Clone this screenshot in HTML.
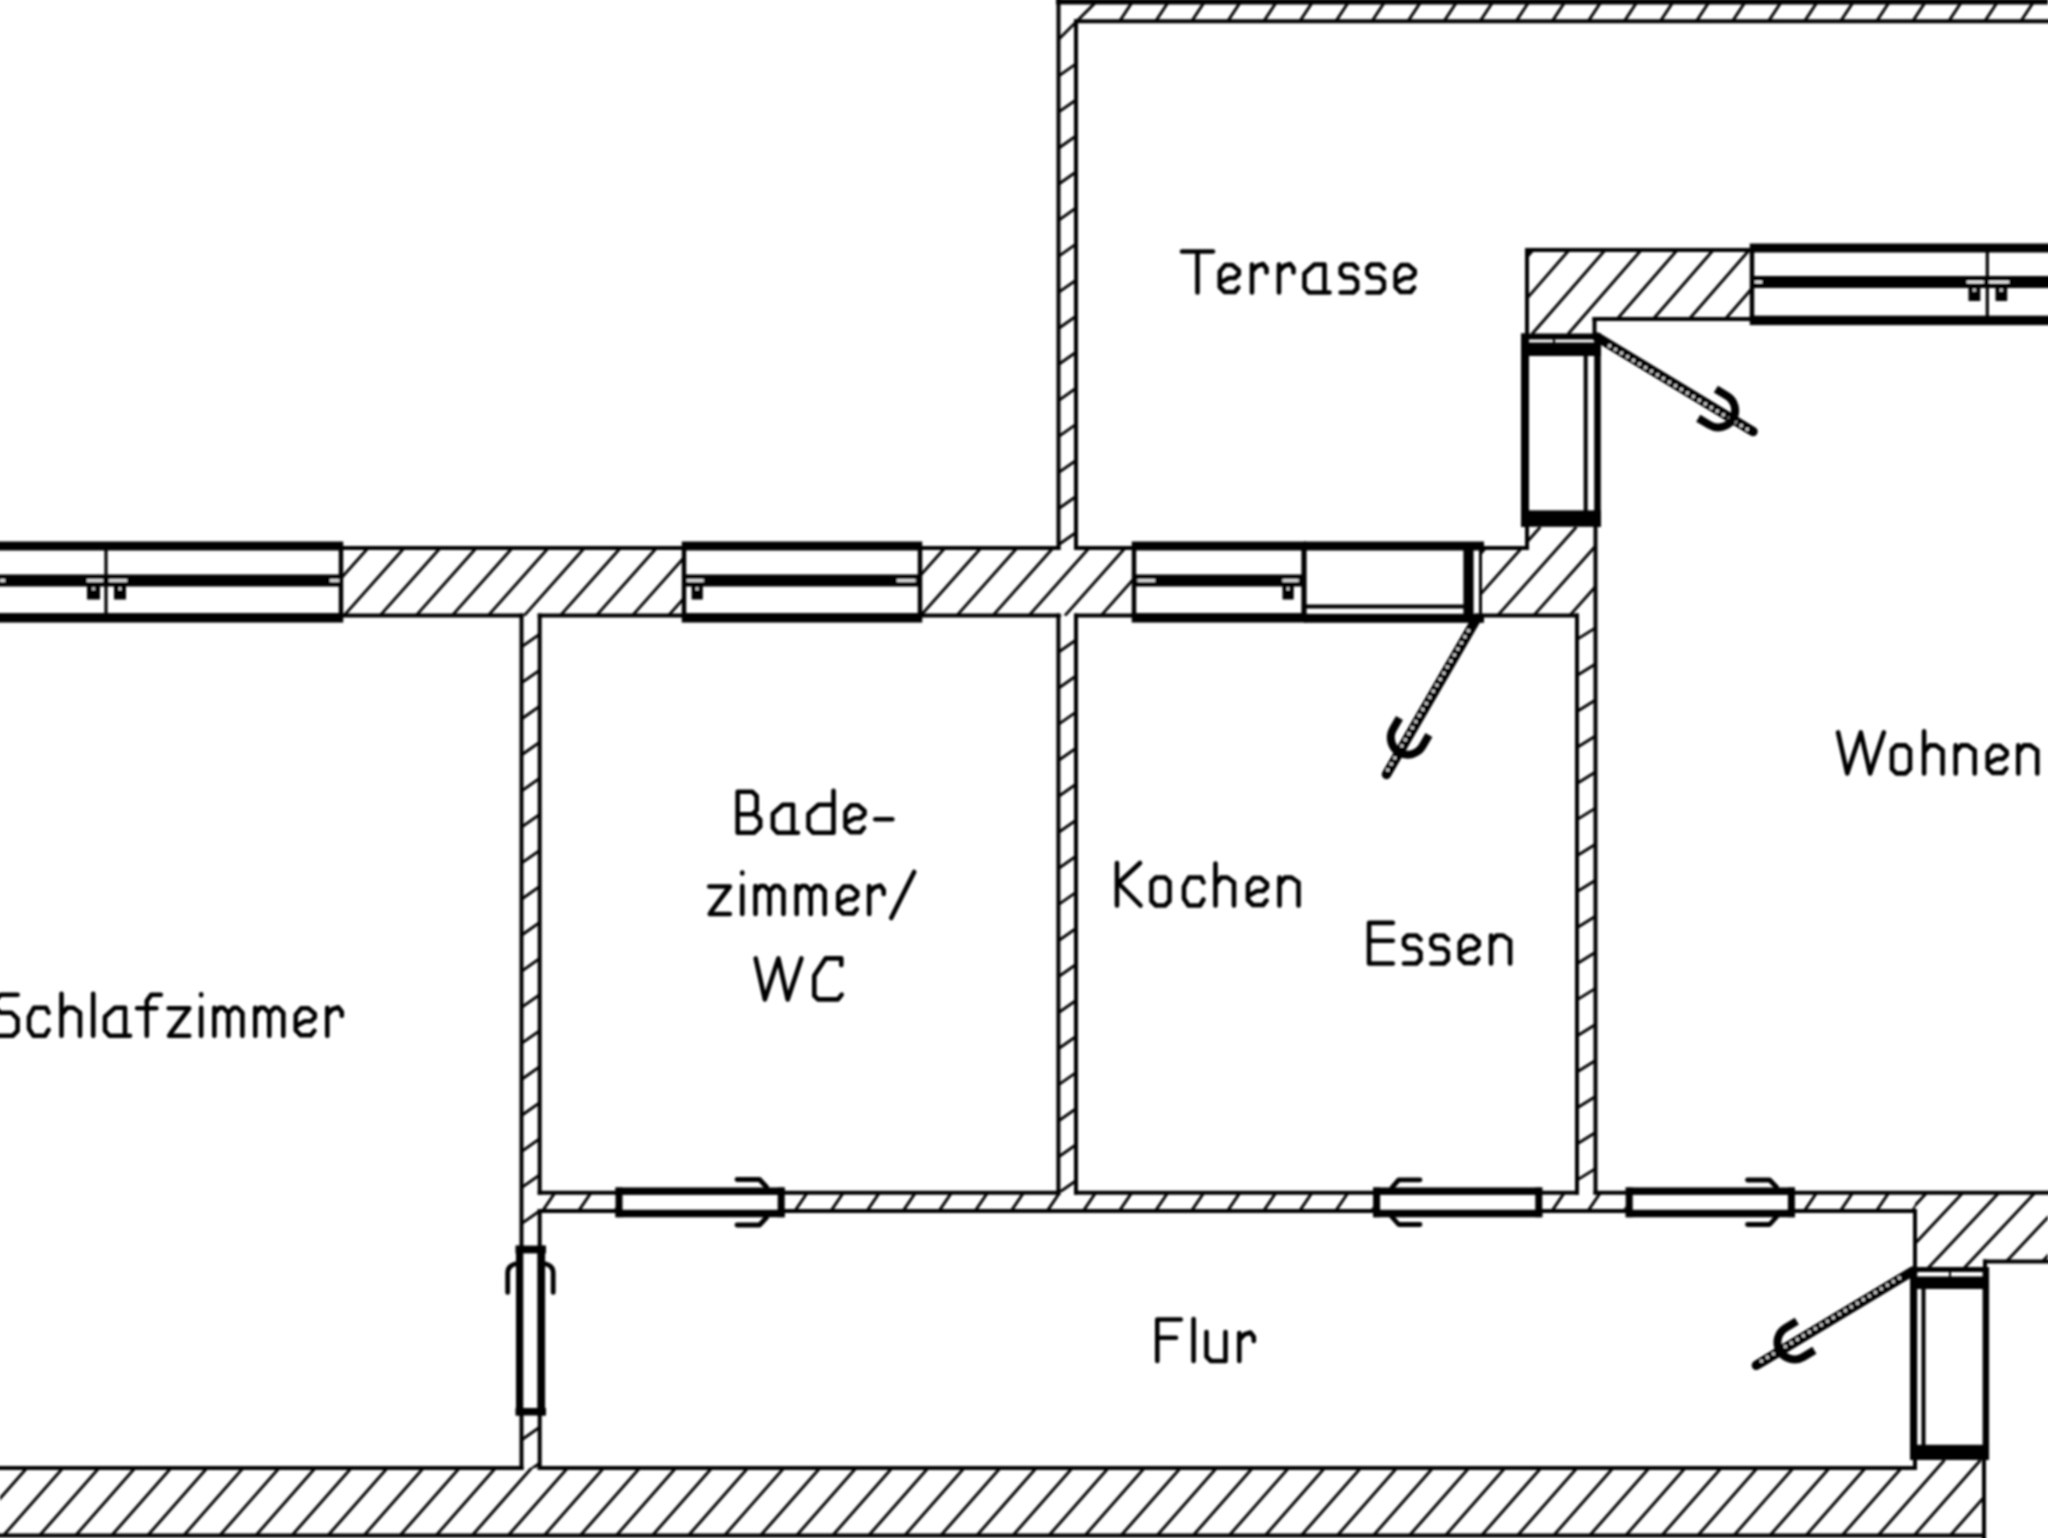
<!DOCTYPE html>
<html><head><meta charset="utf-8"><title>Grundriss</title>
<style>html,body{margin:0;padding:0;background:#fff;overflow:hidden}svg{display:block}text{font-family:"Liberation Sans",sans-serif}</style>
</head><body>
<svg width="2048" height="1538" viewBox="0 0 2048 1538"><defs><filter id="blr" x="0" y="0" width="2048" height="1538" filterUnits="userSpaceOnUse"><feGaussianBlur stdDeviation="0.8"/></filter><clipPath id="c1"><polygon points="1100,1 2048,1 2048,21.3 1100,21.3"/></clipPath><clipPath id="c2"><polygon points="1058.5,45 1076,45 1076,548 1058.5,548"/></clipPath><clipPath id="c3"><polygon points="1058.5,1 1100,1 1100,21.3 1076,21.3 1076,45 1058.5,45"/></clipPath><clipPath id="c4"><polygon points="341,548 684,548 684,615.6 341,615.6"/></clipPath><clipPath id="c5"><polygon points="920,548 1134,548 1134,615.6 920,615.6"/></clipPath><clipPath id="c6"><polygon points="1482,548 1527,548 1527,527 1595.5,527 1595.5,615.6 1482,615.6"/></clipPath><clipPath id="c7"><polygon points="1527,250 1752,250 1752,319 1594.5,319 1594.5,334 1527,334"/></clipPath><clipPath id="c8"><polygon points="521.5,615.6 539.7,615.6 539.7,1248 521.5,1248"/></clipPath><clipPath id="c9"><polygon points="521.5,1415 539.7,1415 539.7,1468 521.5,1468"/></clipPath><clipPath id="c10"><polygon points="1058.4,615.6 1076,615.6 1076,1192 1058.4,1192"/></clipPath><clipPath id="c11"><polygon points="1577,615.6 1595.5,615.6 1595.5,1192 1577,1192"/></clipPath><clipPath id="c12"><polygon points="539.7,1192.7 615.6,1192.7 615.6,1211.1 539.7,1211.1"/></clipPath><clipPath id="c13"><polygon points="784.6,1192.7 1373.1,1192.7 1373.1,1211.1 784.6,1211.1"/></clipPath><clipPath id="c14"><polygon points="1542.3,1192.7 1625.7,1192.7 1625.7,1211.1 1542.3,1211.1"/></clipPath><clipPath id="c15"><polygon points="1794.9,1192.7 1915,1192.7 1915,1211.1 1794.9,1211.1"/></clipPath><clipPath id="c16"><polygon points="1915,1192 2048,1192 2048,1261.4 1985,1261.4 1985,1270 1915,1270"/></clipPath><clipPath id="c17"><polygon points="0,1468 1915,1468 1915,1460 1984,1460 1984,1535.5 0,1535.5"/></clipPath></defs><rect width="2048" height="1538" fill="#fff"/><g font-family="Liberation Sans, sans-serif" fill="#000" filter="url(#blr)"><path clip-path="url(#c1)" d="M1011.4 21.3L1024.8 1M1047.45 21.3L1060.85 1M1083.5 21.3L1096.9 1M1119.55 21.3L1132.95 1M1155.6 21.3L1169 1M1191.65 21.3L1205.05 1M1227.7 21.3L1241.1 1M1263.75 21.3L1277.15 1M1299.8 21.3L1313.2 1M1335.85 21.3L1349.25 1M1371.9 21.3L1385.3 1M1407.95 21.3L1421.35 1M1444 21.3L1457.4 1M1480.05 21.3L1493.45 1M1516.1 21.3L1529.5 1M1552.15 21.3L1565.55 1M1588.2 21.3L1601.6 1M1624.25 21.3L1637.65 1M1660.3 21.3L1673.7 1M1696.35 21.3L1709.75 1M1732.4 21.3L1745.8 1M1768.45 21.3L1781.85 1M1804.5 21.3L1817.9 1M1840.55 21.3L1853.95 1M1876.6 21.3L1890 1M1912.65 21.3L1926.05 1M1948.7 21.3L1962.1 1M1984.75 21.3L1998.15 1M2020.8 21.3L2034.2 1M2056.85 21.3L2070.25 1M2092.9 21.3L2106.3 1M2128.95 21.3L2142.35 1" stroke="#000" stroke-width="2.9" fill="none"/>
<path clip-path="url(#c2)" d="M1058.5 -32.05L1076 -44.3M1058.5 4L1076 -8.25M1058.5 40.05L1076 27.8M1058.5 76.1L1076 63.85M1058.5 112.15L1076 99.9M1058.5 148.2L1076 135.95M1058.5 184.25L1076 172M1058.5 220.3L1076 208.05M1058.5 256.35L1076 244.1M1058.5 292.4L1076 280.15M1058.5 328.45L1076 316.2M1058.5 364.5L1076 352.25M1058.5 400.55L1076 388.3M1058.5 436.6L1076 424.35M1058.5 472.65L1076 460.4M1058.5 508.7L1076 496.45M1058.5 544.75L1076 532.5M1058.5 580.8L1076 568.55M1058.5 616.85L1076 604.6M1058.5 652.9L1076 640.65" stroke="#000" stroke-width="2.9" fill="none"/>
<path clip-path="url(#c3)" d="M1050 48L1100 -2" stroke="#000" stroke-width="2.9" fill="none"/>
<path clip-path="url(#c4)" d="M199.75 615.6L259.91 548M235.8 615.6L295.96 548M271.85 615.6L332.01 548M307.9 615.6L368.06 548M343.95 615.6L404.11 548M380 615.6L440.16 548M416.05 615.6L476.21 548M452.1 615.6L512.26 548M488.15 615.6L548.31 548M524.2 615.6L584.36 548M560.25 615.6L620.41 548M596.3 615.6L656.46 548M632.35 615.6L692.51 548M668.4 615.6L728.56 548M704.45 615.6L764.61 548M740.5 615.6L800.66 548M776.55 615.6L836.71 548" stroke="#000" stroke-width="2.9" fill="none"/>
<path clip-path="url(#c5)" d="M776.55 615.6L836.71 548M812.6 615.6L872.76 548M848.65 615.6L908.81 548M884.7 615.6L944.86 548M920.75 615.6L980.91 548M956.8 615.6L1016.96 548M992.85 615.6L1053.01 548M1028.9 615.6L1089.06 548M1064.95 615.6L1125.11 548M1101 615.6L1161.16 548M1137.05 615.6L1197.21 548M1173.1 615.6L1233.26 548M1209.15 615.6L1269.31 548" stroke="#000" stroke-width="2.9" fill="none"/>
<path clip-path="url(#c6)" d="M1317.3 615.6L1396.15 527M1353.35 615.6L1432.2 527M1389.4 615.6L1468.25 527M1425.45 615.6L1504.3 527M1461.5 615.6L1540.35 527M1497.55 615.6L1576.4 527M1533.6 615.6L1612.45 527M1569.65 615.6L1648.5 527M1605.7 615.6L1684.55 527M1641.75 615.6L1720.6 527M1677.8 615.6L1756.65 527" stroke="#000" stroke-width="2.9" fill="none"/>
<path clip-path="url(#c7)" d="M1351.8 334L1424.88 250M1387.85 334L1460.93 250M1423.9 334L1496.98 250M1459.95 334L1533.03 250M1496 334L1569.08 250M1532.05 334L1605.13 250M1568.1 334L1641.18 250M1604.15 334L1677.23 250M1640.2 334L1713.28 250M1676.25 334L1749.33 250M1712.3 334L1785.38 250M1748.35 334L1821.43 250M1784.4 334L1857.48 250M1820.45 334L1893.53 250M1856.5 334L1929.58 250" stroke="#000" stroke-width="2.9" fill="none"/>
<path clip-path="url(#c8)" d="M521.5 538.7L539.7 525.96M521.5 574.75L539.7 562.01M521.5 610.8L539.7 598.06M521.5 646.85L539.7 634.11M521.5 682.9L539.7 670.16M521.5 718.95L539.7 706.21M521.5 755L539.7 742.26M521.5 791.05L539.7 778.31M521.5 827.1L539.7 814.36M521.5 863.15L539.7 850.41M521.5 899.2L539.7 886.46M521.5 935.25L539.7 922.51M521.5 971.3L539.7 958.56M521.5 1007.35L539.7 994.61M521.5 1043.4L539.7 1030.66M521.5 1079.45L539.7 1066.71M521.5 1115.5L539.7 1102.76M521.5 1151.55L539.7 1138.81M521.5 1187.6L539.7 1174.86M521.5 1223.65L539.7 1210.91M521.5 1259.7L539.7 1246.96M521.5 1295.75L539.7 1283.01M521.5 1331.8L539.7 1319.06M521.5 1367.85L539.7 1355.11" stroke="#000" stroke-width="2.9" fill="none"/>
<path clip-path="url(#c9)" d="M521.5 1331.8L539.7 1319.06M521.5 1367.85L539.7 1355.11M521.5 1403.9L539.7 1391.16M521.5 1439.95L539.7 1427.21M521.5 1476L539.7 1463.26M521.5 1512.05L539.7 1499.31M521.5 1548.1L539.7 1535.36M521.5 1584.15L539.7 1571.41" stroke="#000" stroke-width="2.9" fill="none"/>
<path clip-path="url(#c10)" d="M1058.4 508.1L1076 495.78M1058.4 544.15L1076 531.83M1058.4 580.2L1076 567.88M1058.4 616.25L1076 603.93M1058.4 652.3L1076 639.98M1058.4 688.35L1076 676.03M1058.4 724.4L1076 712.08M1058.4 760.45L1076 748.13M1058.4 796.5L1076 784.18M1058.4 832.55L1076 820.23M1058.4 868.6L1076 856.28M1058.4 904.65L1076 892.33M1058.4 940.7L1076 928.38M1058.4 976.75L1076 964.43M1058.4 1012.8L1076 1000.48M1058.4 1048.85L1076 1036.53M1058.4 1084.9L1076 1072.58M1058.4 1120.95L1076 1108.63M1058.4 1157L1076 1144.68M1058.4 1193.05L1076 1180.73M1058.4 1229.1L1076 1216.78M1058.4 1265.15L1076 1252.83M1058.4 1301.2L1076 1288.88" stroke="#000" stroke-width="2.9" fill="none"/>
<path clip-path="url(#c11)" d="M1577 531.2L1595.5 519.73M1577 567.25L1595.5 555.78M1577 603.3L1595.5 591.83M1577 639.35L1595.5 627.88M1577 675.4L1595.5 663.93M1577 711.45L1595.5 699.98M1577 747.5L1595.5 736.03M1577 783.55L1595.5 772.08M1577 819.6L1595.5 808.13M1577 855.65L1595.5 844.18M1577 891.7L1595.5 880.23M1577 927.75L1595.5 916.28M1577 963.8L1595.5 952.33M1577 999.85L1595.5 988.38M1577 1035.9L1595.5 1024.43M1577 1071.95L1595.5 1060.48M1577 1108L1595.5 1096.53M1577 1144.05L1595.5 1132.58M1577 1180.1L1595.5 1168.63M1577 1216.15L1595.5 1204.68M1577 1252.2L1595.5 1240.73M1577 1288.25L1595.5 1276.78" stroke="#000" stroke-width="2.9" fill="none"/>
<path clip-path="url(#c12)" d="M434.3 1211.1L446.81 1192.7M470.35 1211.1L482.86 1192.7M506.4 1211.1L518.91 1192.7M542.45 1211.1L554.96 1192.7M578.5 1211.1L591.01 1192.7M614.55 1211.1L627.06 1192.7M650.6 1211.1L663.11 1192.7M686.65 1211.1L699.16 1192.7M722.7 1211.1L735.21 1192.7" stroke="#000" stroke-width="2.9" fill="none"/>
<path clip-path="url(#c13)" d="M686.65 1211.1L699.16 1192.7M722.7 1211.1L735.21 1192.7M758.75 1211.1L771.26 1192.7M794.8 1211.1L807.31 1192.7M830.85 1211.1L843.36 1192.7M866.9 1211.1L879.41 1192.7M902.95 1211.1L915.46 1192.7M939 1211.1L951.51 1192.7M975.05 1211.1L987.56 1192.7M1011.1 1211.1L1023.61 1192.7M1047.15 1211.1L1059.66 1192.7M1083.2 1211.1L1095.71 1192.7M1119.25 1211.1L1131.76 1192.7M1155.3 1211.1L1167.81 1192.7M1191.35 1211.1L1203.86 1192.7M1227.4 1211.1L1239.91 1192.7M1263.45 1211.1L1275.96 1192.7M1299.5 1211.1L1312.01 1192.7M1335.55 1211.1L1348.06 1192.7M1371.6 1211.1L1384.11 1192.7M1407.65 1211.1L1420.16 1192.7M1443.7 1211.1L1456.21 1192.7M1479.75 1211.1L1492.26 1192.7" stroke="#000" stroke-width="2.9" fill="none"/>
<path clip-path="url(#c14)" d="M1443.7 1211.1L1456.21 1192.7M1479.75 1211.1L1492.26 1192.7M1515.8 1211.1L1528.31 1192.7M1551.85 1211.1L1564.36 1192.7M1587.9 1211.1L1600.41 1192.7M1623.95 1211.1L1636.46 1192.7M1660 1211.1L1672.51 1192.7M1696.05 1211.1L1708.56 1192.7M1732.1 1211.1L1744.61 1192.7" stroke="#000" stroke-width="2.9" fill="none"/>
<path clip-path="url(#c15)" d="M1696.05 1211.1L1708.56 1192.7M1732.1 1211.1L1744.61 1192.7M1768.15 1211.1L1780.66 1192.7M1804.2 1211.1L1816.71 1192.7M1840.25 1211.1L1852.76 1192.7M1876.3 1211.1L1888.81 1192.7M1912.35 1211.1L1924.86 1192.7M1948.4 1211.1L1960.91 1192.7M1984.45 1211.1L1996.96 1192.7M2020.5 1211.1L2033.01 1192.7" stroke="#000" stroke-width="2.9" fill="none"/>
<path clip-path="url(#c16)" d="M1746.02 1270L1819.34 1192M1782.07 1270L1855.39 1192M1818.12 1270L1891.44 1192M1854.17 1270L1927.49 1192M1890.22 1270L1963.54 1192M1926.27 1270L1999.59 1192M1962.32 1270L2035.64 1192M1998.37 1270L2071.69 1192M2034.42 1270L2107.74 1192M2070.47 1270L2143.79 1192M2106.52 1270L2179.84 1192M2142.57 1270L2215.89 1192" stroke="#000" stroke-width="2.9" fill="none"/>
<path clip-path="url(#c17)" d="M-140.7 1535.5L-74.26 1460M-104.65 1535.5L-38.21 1460M-68.6 1535.5L-2.16 1460M-32.55 1535.5L33.89 1460M3.5 1535.5L69.94 1460M39.55 1535.5L105.99 1460M75.6 1535.5L142.04 1460M111.65 1535.5L178.09 1460M147.7 1535.5L214.14 1460M183.75 1535.5L250.19 1460M219.8 1535.5L286.24 1460M255.85 1535.5L322.29 1460M291.9 1535.5L358.34 1460M327.95 1535.5L394.39 1460M364 1535.5L430.44 1460M400.05 1535.5L466.49 1460M436.1 1535.5L502.54 1460M472.15 1535.5L538.59 1460M508.2 1535.5L574.64 1460M544.25 1535.5L610.69 1460M580.3 1535.5L646.74 1460M616.35 1535.5L682.79 1460M652.4 1535.5L718.84 1460M688.45 1535.5L754.89 1460M724.5 1535.5L790.94 1460M760.55 1535.5L826.99 1460M796.6 1535.5L863.04 1460M832.65 1535.5L899.09 1460M868.7 1535.5L935.14 1460M904.75 1535.5L971.19 1460M940.8 1535.5L1007.24 1460M976.85 1535.5L1043.29 1460M1012.9 1535.5L1079.34 1460M1048.95 1535.5L1115.39 1460M1085 1535.5L1151.44 1460M1121.05 1535.5L1187.49 1460M1157.1 1535.5L1223.54 1460M1193.15 1535.5L1259.59 1460M1229.2 1535.5L1295.64 1460M1265.25 1535.5L1331.69 1460M1301.3 1535.5L1367.74 1460M1337.35 1535.5L1403.79 1460M1373.4 1535.5L1439.84 1460M1409.45 1535.5L1475.89 1460M1445.5 1535.5L1511.94 1460M1481.55 1535.5L1547.99 1460M1517.6 1535.5L1584.04 1460M1553.65 1535.5L1620.09 1460M1589.7 1535.5L1656.14 1460M1625.75 1535.5L1692.19 1460M1661.8 1535.5L1728.24 1460M1697.85 1535.5L1764.29 1460M1733.9 1535.5L1800.34 1460M1769.95 1535.5L1836.39 1460M1806 1535.5L1872.44 1460M1842.05 1535.5L1908.49 1460M1878.1 1535.5L1944.54 1460M1914.15 1535.5L1980.59 1460M1950.2 1535.5L2016.64 1460M1986.25 1535.5L2052.69 1460M2022.3 1535.5L2088.74 1460M2058.35 1535.5L2124.79 1460" stroke="#000" stroke-width="2.9" fill="none"/>
<rect x="1056" y="-1" width="992" height="5.5" fill="#000"/>
<line x1="1058.5" y1="0" x2="1058.5" y2="548" stroke="#000" stroke-width="4" stroke-linecap="square"/>
<line x1="1076" y1="21.3" x2="2048" y2="21.3" stroke="#000" stroke-width="4" stroke-linecap="square"/>
<line x1="1076" y1="21.3" x2="1076" y2="548" stroke="#000" stroke-width="4" stroke-linecap="square"/>
<line x1="341" y1="548" x2="684" y2="548" stroke="#000" stroke-width="4" stroke-linecap="square"/>
<line x1="920" y1="548" x2="1058.5" y2="548" stroke="#000" stroke-width="4" stroke-linecap="square"/>
<line x1="1076" y1="548" x2="1134" y2="548" stroke="#000" stroke-width="4" stroke-linecap="square"/>
<line x1="1482" y1="548" x2="1527" y2="548" stroke="#000" stroke-width="4" stroke-linecap="square"/>
<line x1="341" y1="615.6" x2="521.5" y2="615.6" stroke="#000" stroke-width="4" stroke-linecap="square"/>
<line x1="539.7" y1="615.6" x2="684" y2="615.6" stroke="#000" stroke-width="4" stroke-linecap="square"/>
<line x1="920" y1="615.6" x2="1058.4" y2="615.6" stroke="#000" stroke-width="4" stroke-linecap="square"/>
<line x1="1076" y1="615.6" x2="1134" y2="615.6" stroke="#000" stroke-width="4" stroke-linecap="square"/>
<line x1="1482" y1="615.6" x2="1577" y2="615.6" stroke="#000" stroke-width="4" stroke-linecap="square"/>
<line x1="1595.5" y1="527" x2="1595.5" y2="1192.5" stroke="#000" stroke-width="4" stroke-linecap="square"/>
<line x1="1527" y1="527" x2="1527" y2="548" stroke="#000" stroke-width="4" stroke-linecap="square"/>
<line x1="1527" y1="250" x2="1752" y2="250" stroke="#000" stroke-width="4" stroke-linecap="square"/>
<line x1="1527" y1="250" x2="1527" y2="334" stroke="#000" stroke-width="4" stroke-linecap="square"/>
<line x1="1594.5" y1="319" x2="1752" y2="319" stroke="#000" stroke-width="4" stroke-linecap="square"/>
<line x1="1594.5" y1="319" x2="1594.5" y2="334" stroke="#000" stroke-width="4" stroke-linecap="square"/>
<line x1="521.5" y1="615.6" x2="521.5" y2="1248" stroke="#000" stroke-width="4" stroke-linecap="square"/>
<line x1="521.5" y1="1415" x2="521.5" y2="1468" stroke="#000" stroke-width="4" stroke-linecap="square"/>
<line x1="539.7" y1="615.6" x2="539.7" y2="1192.7" stroke="#000" stroke-width="4" stroke-linecap="square"/>
<line x1="539.7" y1="1211.1" x2="539.7" y2="1248" stroke="#000" stroke-width="4" stroke-linecap="square"/>
<line x1="539.7" y1="1415" x2="539.7" y2="1468" stroke="#000" stroke-width="4" stroke-linecap="square"/>
<line x1="1058.4" y1="615.6" x2="1058.4" y2="1192.7" stroke="#000" stroke-width="4" stroke-linecap="square"/>
<line x1="1076" y1="615.6" x2="1076" y2="1192.7" stroke="#000" stroke-width="4" stroke-linecap="square"/>
<line x1="1577" y1="615.6" x2="1577" y2="1192.7" stroke="#000" stroke-width="4" stroke-linecap="square"/>
<line x1="539.7" y1="1192.7" x2="615.6" y2="1192.7" stroke="#000" stroke-width="4" stroke-linecap="square"/>
<line x1="784.6" y1="1192.7" x2="1058.4" y2="1192.7" stroke="#000" stroke-width="4" stroke-linecap="square"/>
<line x1="1076" y1="1192.7" x2="1373.1" y2="1192.7" stroke="#000" stroke-width="4" stroke-linecap="square"/>
<line x1="1542.3" y1="1192.7" x2="1577" y2="1192.7" stroke="#000" stroke-width="4" stroke-linecap="square"/>
<line x1="1595.5" y1="1192.7" x2="1625.7" y2="1192.7" stroke="#000" stroke-width="4" stroke-linecap="square"/>
<line x1="1794.9" y1="1192.7" x2="2048" y2="1192.7" stroke="#000" stroke-width="4" stroke-linecap="square"/>
<line x1="539.7" y1="1211.1" x2="615.6" y2="1211.1" stroke="#000" stroke-width="4" stroke-linecap="square"/>
<line x1="784.6" y1="1211.1" x2="1373.1" y2="1211.1" stroke="#000" stroke-width="4" stroke-linecap="square"/>
<line x1="1542.3" y1="1211.1" x2="1625.7" y2="1211.1" stroke="#000" stroke-width="4" stroke-linecap="square"/>
<line x1="1794.9" y1="1211.1" x2="1915" y2="1211.1" stroke="#000" stroke-width="4" stroke-linecap="square"/>
<line x1="1915" y1="1211.1" x2="1915" y2="1270" stroke="#000" stroke-width="4" stroke-linecap="square"/>
<line x1="1985" y1="1261.4" x2="2048" y2="1261.4" stroke="#000" stroke-width="4" stroke-linecap="square"/>
<line x1="1985" y1="1261.4" x2="1985" y2="1270" stroke="#000" stroke-width="4" stroke-linecap="square"/>
<line x1="0" y1="1468" x2="521.5" y2="1468" stroke="#000" stroke-width="4" stroke-linecap="square"/>
<line x1="539.7" y1="1468" x2="1915" y2="1468" stroke="#000" stroke-width="4" stroke-linecap="square"/>
<line x1="1915" y1="1460" x2="1915" y2="1468" stroke="#000" stroke-width="4" stroke-linecap="square"/>
<line x1="0" y1="1535.5" x2="1984" y2="1535.5" stroke="#000" stroke-width="4" stroke-linecap="square"/>
<line x1="1984" y1="1460" x2="1984" y2="1538" stroke="#000" stroke-width="4" stroke-linecap="square"/>
<rect x="-12.25" y="541.5" width="355.5" height="9" fill="#000"/>
<rect x="-12.25" y="613.05" width="355.5" height="9.5" fill="#000"/>
<rect x="338.75" y="546" width="4.5" height="71.8" fill="#000"/>
<rect x="-10" y="574.5" width="351" height="12" fill="#000"/>
<rect x="0" y="579.3" width="5" height="2.4" fill="#fff"/>
<rect x="87" y="579.3" width="16" height="2.4" fill="#fff"/>
<rect x="109" y="579.3" width="18" height="2.4" fill="#fff"/>
<rect x="330" y="579.3" width="9" height="2.4" fill="#fff"/>
<rect x="104.4" y="546" width="3.2" height="71.8" fill="#000"/>
<rect x="87" y="583.5" width="13" height="16" fill="#000"/>
<rect x="92.3" y="587.5" width="2.4" height="2.4" fill="#fff"/>
<rect x="114" y="583.5" width="12" height="16" fill="#000"/>
<rect x="118.8" y="587.5" width="2.4" height="2.4" fill="#fff"/>
<rect x="681.75" y="541.5" width="240.5" height="9" fill="#000"/>
<rect x="681.75" y="613.05" width="240.5" height="9.5" fill="#000"/>
<rect x="681.75" y="546" width="4.5" height="71.8" fill="#000"/>
<rect x="917.75" y="546" width="4.5" height="71.8" fill="#000"/>
<rect x="684" y="574.5" width="236" height="12" fill="#000"/>
<rect x="687" y="579.3" width="16.7" height="2.4" fill="#fff"/>
<rect x="897" y="579.3" width="18.6" height="2.4" fill="#fff"/>
<rect x="691.6" y="583.5" width="11.2" height="16" fill="#000"/>
<rect x="696" y="587.5" width="2.4" height="2.4" fill="#fff"/>
<rect x="1131.75" y="541.5" width="174.5" height="9" fill="#000"/>
<rect x="1131.75" y="613.05" width="174.5" height="9.5" fill="#000"/>
<rect x="1131.75" y="546" width="4.5" height="71.8" fill="#000"/>
<rect x="1301.75" y="546" width="4.5" height="71.8" fill="#000"/>
<rect x="1134" y="574.5" width="170" height="12" fill="#000"/>
<rect x="1137.5" y="579.3" width="17.5" height="2.4" fill="#fff"/>
<rect x="1282.5" y="579.3" width="16.2" height="2.4" fill="#fff"/>
<rect x="1282.5" y="583.5" width="11.2" height="16" fill="#000"/>
<rect x="1286.9" y="587.5" width="2.4" height="2.4" fill="#fff"/>
<rect x="1304" y="541.5" width="180" height="9" fill="#000"/>
<rect x="1304" y="613.8" width="180" height="9" fill="#000"/>
<rect x="1304" y="604.5" width="162" height="4" fill="#000"/>
<rect x="1301.5" y="546" width="5" height="72" fill="#000"/>
<rect x="1463.4" y="548" width="10.2" height="72" fill="#000"/>
<rect x="1479" y="546" width="3" height="72" fill="#000"/>
<rect x="1749.75" y="243.5" width="312.5" height="9" fill="#000"/>
<rect x="1749.75" y="315.65" width="312.5" height="9.5" fill="#000"/>
<rect x="1749.75" y="248" width="4.5" height="72.4" fill="#000"/>
<rect x="1752" y="276" width="308" height="12" fill="#000"/>
<rect x="1755" y="280.8" width="7" height="2.4" fill="#fff"/>
<rect x="1966.8" y="280.8" width="17" height="2.4" fill="#fff"/>
<rect x="1989" y="280.8" width="20" height="2.4" fill="#fff"/>
<rect x="1985.7" y="248" width="3.2" height="72.4" fill="#000"/>
<rect x="1968.5" y="285" width="11.8" height="16" fill="#000"/>
<rect x="1973.2" y="289" width="2.4" height="2.4" fill="#fff"/>
<rect x="1995.5" y="285" width="11.7" height="16" fill="#000"/>
<rect x="2000.15" y="289" width="2.4" height="2.4" fill="#fff"/>
<rect x="1521" y="333.5" width="8" height="193.5" fill="#000"/>
<rect x="1594.2" y="333.5" width="6.6" height="193.5" fill="#000"/>
<rect x="1583.7" y="350" width="4" height="165" fill="#000"/>
<rect x="1521" y="333.5" width="80" height="6" fill="#000"/>
<rect x="1521" y="342.5" width="80" height="13.5" fill="#000"/>
<rect x="1553" y="337" width="2" height="8" fill="#000"/>
<rect x="1521" y="510.4" width="80" height="16.4" fill="#000"/>
<rect x="1910" y="1267" width="7.2" height="193" fill="#000"/>
<rect x="1982.6" y="1267" width="6.5" height="193" fill="#000"/>
<rect x="1921.5" y="1280" width="4" height="170" fill="#000"/>
<rect x="1910" y="1267" width="79" height="5" fill="#000"/>
<rect x="1910" y="1276.5" width="79" height="12.5" fill="#000"/>
<rect x="1949" y="1270" width="2" height="8" fill="#000"/>
<rect x="1910" y="1444.8" width="79" height="15.2" fill="#000"/>
<rect x="615.5" y="1187.45" width="169.2" height="7.5" fill="#000"/>
<rect x="615.5" y="1209.75" width="169.2" height="7.5" fill="#000"/>
<rect x="615.5" y="1187.5" width="7" height="29.7" fill="#000"/>
<rect x="777.7" y="1187.5" width="7" height="29.7" fill="#000"/>
<rect x="1373.1" y="1187.45" width="169.2" height="7.5" fill="#000"/>
<rect x="1373.1" y="1209.75" width="169.2" height="7.5" fill="#000"/>
<rect x="1373.1" y="1187.5" width="7" height="29.7" fill="#000"/>
<rect x="1535.3" y="1187.5" width="7" height="29.7" fill="#000"/>
<rect x="1625.7" y="1187.45" width="169.2" height="7.5" fill="#000"/>
<rect x="1625.7" y="1209.75" width="169.2" height="7.5" fill="#000"/>
<rect x="1625.7" y="1187.5" width="7" height="29.7" fill="#000"/>
<rect x="1787.9" y="1187.5" width="7" height="29.7" fill="#000"/>
<path d="M737 1179.5H759.5L766.5 1187" stroke="#000" stroke-width="4.8" fill="none" stroke-linecap="round" stroke-linejoin="round"/>
<path d="M737 1225H759.5L766.5 1217.5" stroke="#000" stroke-width="4.8" fill="none" stroke-linecap="round" stroke-linejoin="round"/>
<path d="M1420 1179.8H1398.7L1392 1187.5" stroke="#000" stroke-width="4.8" fill="none" stroke-linecap="round" stroke-linejoin="round"/>
<path d="M1420 1224.5H1398.7L1392 1217" stroke="#000" stroke-width="4.8" fill="none" stroke-linecap="round" stroke-linejoin="round"/>
<path d="M1747.5 1180H1769.6L1776.4 1187" stroke="#000" stroke-width="4.8" fill="none" stroke-linecap="round" stroke-linejoin="round"/>
<path d="M1747.5 1224.5H1769.6L1776.4 1217" stroke="#000" stroke-width="4.8" fill="none" stroke-linecap="round" stroke-linejoin="round"/>
<rect x="516" y="1245.6" width="7.3" height="169.9" fill="#000"/>
<rect x="537.3" y="1245.6" width="7.8" height="169.9" fill="#000"/>
<rect x="515.5" y="1245.6" width="30.5" height="7.8" fill="#000"/>
<rect x="515.5" y="1408" width="30.5" height="7.5" fill="#000"/>
<path d="M507.7 1292.4V1273Q507.7 1266 515 1264" stroke="#000" stroke-width="4.8" fill="none" stroke-linecap="round" stroke-linejoin="round"/>
<path d="M553.2 1292.4V1273Q553.2 1266 546 1264" stroke="#000" stroke-width="4.8" fill="none" stroke-linecap="round" stroke-linejoin="round"/>
<line x1="1477" y1="618" x2="1386.5" y2="774.4" stroke="#000" stroke-width="9.5" stroke-linecap="round"/>
<line x1="1469.12" y1="629.62" x2="1387.14" y2="771.3" stroke="#fff" stroke-width="2.4" stroke-dasharray="2.6 4.4"/>
<path d="M1399.48 718.02L1392.97 729.28A17 17 0 0 0 1422.4 746.3L1428.91 735.05" stroke="#000" stroke-width="8" fill="none"/>
<line x1="1597" y1="337" x2="1753" y2="431.5" stroke="#000" stroke-width="9.5" stroke-linecap="round"/>
<line x1="1608.46" y1="345.11" x2="1749.92" y2="430.8" stroke="#fff" stroke-width="2.4" stroke-dasharray="2.6 4.4"/>
<path d="M1698.25 418.21L1709.37 424.95A17 17 0 0 0 1726.99 395.87L1715.87 389.13" stroke="#000" stroke-width="8" fill="none"/>
<line x1="1913" y1="1271" x2="1756.4" y2="1365.3" stroke="#000" stroke-width="9.5" stroke-linecap="round"/>
<line x1="1900.49" y1="1277.37" x2="1758.45" y2="1362.9" stroke="#fff" stroke-width="2.4" stroke-dasharray="2.6 4.4"/>
<path d="M1796.82 1321.12L1785.68 1327.82A17 17 0 0 0 1803.22 1356.95L1814.36 1350.24" stroke="#000" stroke-width="8" fill="none"/>
<g fill="none" stroke="#000" stroke-width="4.6" stroke-linecap="round" stroke-linejoin="round"><path transform="translate(1182 292.5)" d="M0 -41H31M15.5 -41V0"/><path transform="translate(1218.8 292.5)" d="M19.5 -5L16 -0.5H6L1 -5.5V-21L6.5 -27.5H13.5L20 -22V-18.5L16 -14.5H10L2 -10"/><path transform="translate(1252 292.5)" d="M0 -28V0M0 -21L5 -26.5L11 -28.5L14.5 -24V-20"/><path transform="translate(1279 292.5)" d="M0 -28V0M0 -21L5 -26.5L11 -28.5L14.5 -24V-20"/><path transform="translate(1304.5 292.5)" d="M20 -28V0M20 -28H10L0 -19V-5L4.5 0H20M20 0H25"/><path transform="translate(1340.7 292.5)" d="M16.5 -24L12.5 -28H3.5L0 -24.5V-19L4 -15H12.5L16.5 -11V-4L12.5 0H0"/><path transform="translate(1367.4 292.5)" d="M16.5 -24L12.5 -28H3.5L0 -24.5V-19L4 -15H12.5L16.5 -11V-4L12.5 0H0"/><path transform="translate(1394.7 292.5)" d="M19.5 -5L16 -0.5H6L1 -5.5V-21L6.5 -27.5H13.5L20 -22V-18.5L16 -14.5H10L2 -10"/><path transform="translate(737.7 832.7)" d="M0 -41V0M0 -41H14.5L19 -36.5V-22.5L14.5 -18.5H0M14.5 -18.5H17L22.5 -13V-6L16.5 0H0"/><path transform="translate(772.9 832.7)" d="M20 -28V0M20 -28H10L0 -19V-5L4.5 0H20M20 0H25"/><path transform="translate(808.5 832.7)" d="M25 -42V0M25 -28H10L0 -19V-5L4.5 0H25"/><path transform="translate(844.5 832.7)" d="M19.5 -5L16 -0.5H6L1 -5.5V-21L6.5 -27.5H13.5L20 -22V-18.5L16 -14.5H10L2 -10"/><path transform="translate(875.3 832.7)" d="M0 -13.5H17"/><path transform="translate(709.3 914)" d="M0 -27.5H20.5L17.5 -23.5L3 -4L0.5 0H20.5"/><path transform="translate(742.3 914)" d="M0 -28V0M0 -41.5V-40.5"/><path transform="translate(755.5 914)" d="M0 -28V0M0 -22L5 -28H9L14 -23V0M14 -23L19 -28H23L28 -23V0"/><path transform="translate(796.7 914)" d="M0 -28V0M0 -22L5 -28H9L14 -23V0M14 -23L19 -28H23L28 -23V0"/><path transform="translate(837.3 914)" d="M19.5 -5L16 -0.5H6L1 -5.5V-21L6.5 -27.5H13.5L20 -22V-18.5L16 -14.5H10L2 -10"/><path transform="translate(869.2 914)" d="M0 -28V0M0 -21L5 -26.5L11 -28.5L14.5 -24V-20"/><path transform="translate(891.2 914)" d="M0 4L23 -42"/><path transform="translate(755.7 999.4)" d="M0 -41L9.2 0L22.7 -41L32 0L45.7 -41"/><path transform="translate(814.3 999.4)" d="M27 -34.5V-41H11.3L0 -23.6V-3.7L3.7 0H23.6L27.4 -4.8"/><path transform="translate(1117 905.5)" d="M0 -42.5V0M1.5 -22.5L23 -42.5M1.5 -22.5L23.5 0"/><path transform="translate(1151.5 905.5)" d="M4.5 -28H13.5L18 -23.5V-4.5L13.5 0H4.5L0 -4.5V-23.5Z"/><path transform="translate(1184 905.5)" d="M19.5 -23L17 -28H5L0 -19V-7L4.5 0H16L19.5 -6"/><path transform="translate(1215.5 905.5)" d="M0 -42V0M0 -21L5.5 -28H12L18.5 -23V0"/><path transform="translate(1247 905.5)" d="M19.5 -5L16 -0.5H6L1 -5.5V-21L6.5 -27.5H13.5L20 -22V-18.5L16 -14.5H10L2 -10"/><path transform="translate(1279.5 905.5)" d="M0 -28V0M0 -21L5.5 -28H12L19 -23V0"/><path transform="translate(1369.1 963.5)" d="M23.7 -40.6H0V0H23.7M0 -22.8H23.7"/><path transform="translate(1404 963.5)" d="M16.5 -24L12.5 -28H3.5L0 -24.5V-19L4 -15H12.5L16.5 -11V-4L12.5 0H0"/><path transform="translate(1431.4 963.5)" d="M16.5 -24L12.5 -28H3.5L0 -24.5V-19L4 -15H12.5L16.5 -11V-4L12.5 0H0"/><path transform="translate(1458.8 963.5)" d="M19.5 -5L16 -0.5H6L1 -5.5V-21L6.5 -27.5H13.5L20 -22V-18.5L16 -14.5H10L2 -10"/><path transform="translate(1491.1 963.5)" d="M0 -28V0M0 -21L5.5 -28H12L19 -23V0"/><path transform="translate(-4.4 1035.8)" d="M22 -41H5L0 -36V-28L5 -23H16L22 -17V-5L17 0H0"/><path transform="translate(29 1035.8)" d="M19.5 -23L17 -28H5L0 -19V-7L4.5 0H16L19.5 -6"/><path transform="translate(61.5 1035.8)" d="M0 -42V0M0 -21L5.5 -28H12L18.5 -23V0"/><path transform="translate(93.2 1035.8)" d="M0 -42V0"/><path transform="translate(105 1035.8)" d="M20 -28V0M20 -28H10L0 -19V-5L4.5 0H20M20 0H25"/><path transform="translate(137.1 1035.8)" d="M9.7 0V-35L14 -41H23.7M0 -27.5H19.3"/><path transform="translate(168.7 1035.8)" d="M0 -27.5H20.5L17.5 -23.5L3 -4L0.5 0H20.5"/><path transform="translate(201.2 1035.8)" d="M0 -28V0M0 -41.5V-40.5"/><path transform="translate(214.4 1035.8)" d="M0 -28V0M0 -22L5 -28H9L14 -23V0M14 -23L19 -28H23L28 -23V0"/><path transform="translate(255.3 1035.8)" d="M0 -28V0M0 -22L5 -28H9L14 -23V0M14 -23L19 -28H23L28 -23V0"/><path transform="translate(294.8 1035.8)" d="M19.5 -5L16 -0.5H6L1 -5.5V-21L6.5 -27.5H13.5L20 -22V-18.5L16 -14.5H10L2 -10"/><path transform="translate(327.3 1035.8)" d="M0 -28V0M0 -21L5 -26.5L11 -28.5L14.5 -24V-20"/><path transform="translate(1838.1 773.4)" d="M0 -41L9.2 0L22.7 -41L32 0L45.7 -41"/><path transform="translate(1892 773.4)" d="M4.5 -28H13.5L18 -23.5V-4.5L13.5 0H4.5L0 -4.5V-23.5Z"/><path transform="translate(1924.1 773.4)" d="M0 -42V0M0 -21L5.5 -28H12L18.5 -23V0"/><path transform="translate(1955.7 773.4)" d="M0 -28V0M0 -21L5.5 -28H12L19 -23V0"/><path transform="translate(1986.7 773.4)" d="M19.5 -5L16 -0.5H6L1 -5.5V-21L6.5 -27.5H13.5L20 -22V-18.5L16 -14.5H10L2 -10"/><path transform="translate(2018.3 773.4)" d="M0 -28V0M0 -21L5.5 -28H12L19 -23V0"/><path transform="translate(1157.3 1361)" d="M23.5 -41.5H0V0M0 -23.3H18.7"/><path transform="translate(1193.6 1361)" d="M0 -42V0"/><path transform="translate(1206.5 1361)" d="M0 -29V-4.5L4.5 0H19M19 -29V0"/><path transform="translate(1239.3 1361)" d="M0 -28V0M0 -21L5 -26.5L11 -28.5L14.5 -24V-20"/></g></g></svg>
</body></html>
